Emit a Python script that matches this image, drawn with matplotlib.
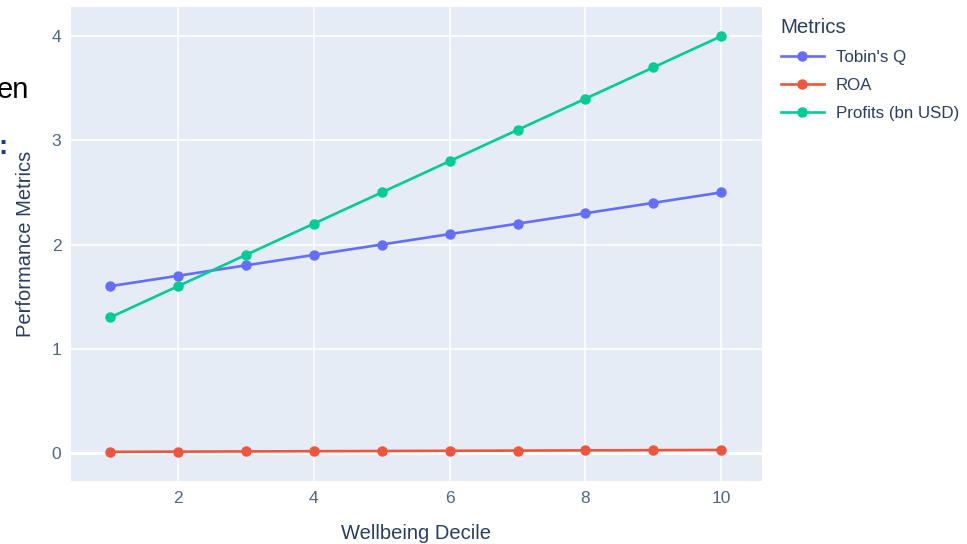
import numpy as np
import matplotlib
matplotlib.use("Agg")
import matplotlib.pyplot as plt

deciles = [1, 2, 3, 4, 5, 6, 7, 8, 9, 10]
tobins_q = [1.6, 1.7, 1.8, 1.9, 2.0, 2.1, 2.2, 2.3, 2.4, 2.5]
roa = [0.010, 0.012, 0.014, 0.016, 0.018, 0.020, 0.022, 0.024, 0.026, 0.028]
profits = [1.3, 1.6, 1.9, 2.2, 2.5, 2.8, 3.1, 3.4, 3.7, 4.0]

series_names = ["Tobin's Q", "ROA", "Profits (bn USD)"]
series_colors = ["#636efa", "#EF553B", "#00cc96"]

txt = "#2a3f5f"
tick_col = "#506784"
plt.rcParams['font.family'] = ['Liberation Sans', 'DejaVu Sans']

W, H = 967, 544
fig = plt.figure(figsize=(W / 100, H / 100), dpi=100)
ax = fig.add_axes([71 / W, 1 - 481 / H, (762 - 71) / W, (481 - 7) / H])
ax.set_facecolor("#E5ECF6")

for vals, name, col in zip([tobins_q, roa, profits], series_names, series_colors):
    ax.plot(deciles, vals, color=col, lw=1.9, marker='o', markersize=6.5, label=name, zorder=3)

ax.set_xlim(0.425, 10.6)
ax.set_ylim(-0.27, 4.28)
ax.set_xticks([2, 4, 6, 8, 10])
ax.set_yticks([0, 1, 2, 3, 4])
ax.grid(color='white', lw=1.1, zorder=0)
ax.set_axisbelow(True)
ax.axhline(0, color='white', lw=2.2, zorder=1)
for s in ax.spines.values():
    s.set_visible(False)
ax.tick_params(length=0, labelsize=12.5, colors=tick_col, pad=7)
ax.set_xlabel("Wellbeing Decile", fontsize=14.5, color=txt, labelpad=13)
ax.set_ylabel("Performance Metrics", fontsize=14.5, color=txt, labelpad=12)

leg = fig.legend(loc='upper left', bbox_to_anchor=(774 / W, 1 - 11 / H), frameon=False,
                 title="Metrics", fontsize=12.2, title_fontsize=14.8,
                 handlelength=2.55, handletextpad=0.7, labelspacing=0.77,
                 alignment='left', borderaxespad=0)
for t in leg.get_texts():
    t.set_color(txt)
leg.get_title().set_color(txt)

# cropped text at the left edge of the screenshot
fig.text(29 / W, 1 - 90 / H, "en", fontsize=21, color='black', ha='right', va='center')
fig.text(-2 / W, 1 - 147 / H, ":", fontsize=20, color='#1a3a8f', ha='left', va='center', fontweight='bold')

fig.savefig("out.png", dpi=100)
